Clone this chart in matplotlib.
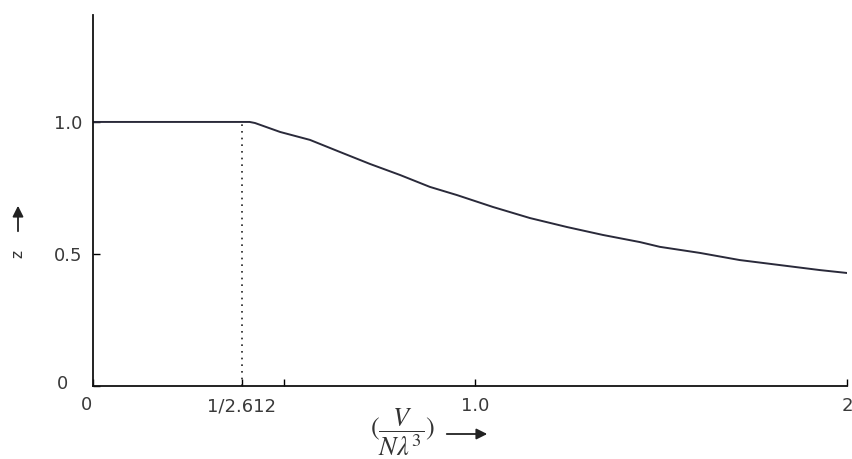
import matplotlib
matplotlib.use('Agg')
from matplotlib import pyplot as plt
from matplotlib.patches import FancyArrowPatch

# curve: v = V/(N lambda^3), z = fugacity
v_vals = [0.0, 0.39, 0.41, 0.424, 0.490, 0.568, 0.647, 0.725, 0.804, 0.882, 0.953,
          1.047, 1.144, 1.241, 1.335, 1.432, 1.484, 1.589, 1.693, 1.798, 1.903, 1.974]
z_vals = [1.0, 1.0, 1.0, 0.996, 0.962, 0.932, 0.886, 0.841, 0.799, 0.754, 0.723,
          0.678, 0.636, 0.602, 0.572, 0.545, 0.527, 0.504, 0.477, 0.458, 0.439, 0.428]

v_crit = 0.39
x_ticks = [0, v_crit, 0.5, 1.0, 1.974]
x_labels = ['', '1/2.612', '', '1.0', '2']
y_ticks = [0, 0.5, 1.0]
y_labels = ['', '0.5', '1.0']

W, H = 853, 459
fig = plt.figure(figsize=(W / 100, H / 100), dpi=100)
ax = fig.add_axes([93 / W, 1 - 386 / H, (847 - 93) / W, (386 - 15) / H])

text_col = '#3a3a3a'
ax.plot(v_vals, z_vals, color='#2a2a3a', lw=1.4)
ax.plot([v_crit, v_crit], [0, 1.0], color='#222222', lw=1.2, linestyle=(0, (1, 3)))

ax.set_xlim(0, 1.974)
ax.set_ylim(0, 1.405)
ax.spines['top'].set_visible(False)
ax.spines['right'].set_visible(False)
for s in ['left', 'bottom']:
    ax.spines[s].set_linewidth(1.3)
    ax.spines[s].set_color('#111111')

ax.set_xticks(x_ticks)
ax.set_xticklabels(x_labels)
ax.set_yticks(y_ticks)
ax.set_yticklabels(y_labels)
ax.tick_params(direction='in', length=5, width=1, labelsize=13, labelcolor=text_col)
ax.tick_params(axis='x', pad=8)
ax.tick_params(axis='y', pad=8)

# the two zeros at the origin sit apart from each other
fig.text(63 / W, 1 - 384 / H, '0', fontsize=13, color=text_col, ha='center', va='center')
fig.text(86 / W, 1 - 405 / H, '0', fontsize=13, color=text_col, ha='center', va='center')

# axis labels with arrows
fig.text(18 / W, 1 - 254 / H, 'z', rotation=90, fontsize=11, color='#333333',
         ha='center', va='center')
fig.add_artist(FancyArrowPatch(
    (18 / W, 1 - 234 / H), (18 / W, 1 - 203 / H), transform=fig.transFigure,
    arrowstyle='-|>', mutation_scale=16, color='#222222', lw=1.3))

fig.text(402 / W, 1 - 432 / H, r'$(\dfrac{V}{N\lambda^3})$', fontsize=19,
         color='#333333', ha='center', va='center', math_fontfamily='stix')
fig.add_artist(FancyArrowPatch(
    (444 / W, 1 - 434 / H), (490 / W, 1 - 434 / H), transform=fig.transFigure,
    arrowstyle='-|>', mutation_scale=16, color='#222222', lw=1.3))

fig.savefig('out.png', dpi=100)
